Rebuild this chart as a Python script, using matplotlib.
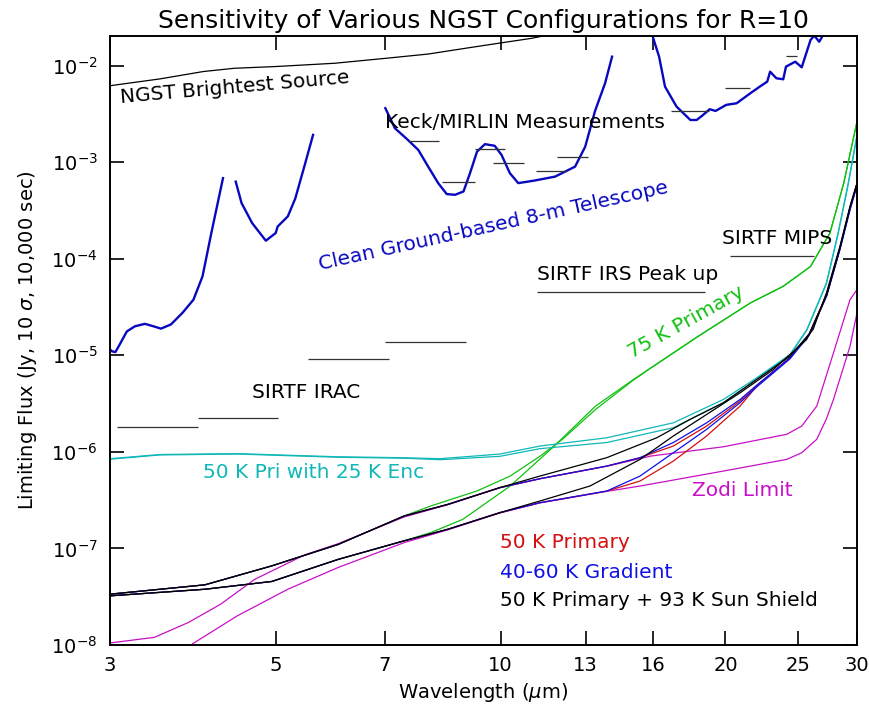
import matplotlib
matplotlib.use('Agg')
import matplotlib.pyplot as plt
from matplotlib.ticker import FixedLocator, FixedFormatter, NullLocator

# ---- data (wavelength in micron, flux in Jy) ----

# clean ground-based 8-m telescope, four pieces between absorption bands
gb_wl1 = [3.0, 3.02, 3.05, 3.09, 3.16, 3.24, 3.34, 3.43, 3.51, 3.62, 3.75, 3.88, 3.99, 4.10, 4.25]
gb_fl1 = [1.15e-5, 1.10e-5, 1.08e-5, 1.29e-5, 1.77e-5, 2.0e-5, 2.12e-5, 2.0e-5, 1.89e-5, 2.09e-5,
          2.75e-5, 3.77e-5, 6.58e-5, 1.85e-4, 6.85e-4]
gb_wl2 = [4.42, 4.50, 4.65, 4.85, 5.0, 5.03, 5.19, 5.31, 5.46, 5.61]
gb_fl2 = [6.3e-4, 3.78e-4, 2.34e-4, 1.54e-4, 1.85e-4, 2.16e-4, 2.75e-4, 4.2e-4, 9.0e-4, 1.92e-3]
gb_wl3 = [7.01, 7.22, 7.51, 7.76, 8.0, 8.25, 8.47, 8.69, 8.92, 9.1, 9.3, 9.53, 9.82, 10.03,
          10.29, 10.56, 11.1, 11.83, 12.58, 12.98, 13.38, 13.8, 14.1]
gb_fl3 = [3.63e-3, 2.25e-3, 1.71e-3, 1.34e-3, 9.0e-4, 6.08e-4, 4.68e-4, 4.6e-4, 4.98e-4, 7.7e-4,
          1.29e-3, 1.54e-3, 1.48e-3, 1.19e-3, 7.7e-4, 6.08e-4, 6.46e-4, 7.1e-4, 9.0e-4, 1.45e-3,
          3.4e-3, 6.58e-3, 1.24e-2]
gb_wl4 = [16.01, 16.3, 16.6, 17.2, 17.95, 18.3, 18.6, 19.05, 19.4, 20.05, 20.7, 21.6, 22.3, 22.75,
          22.95, 23.4, 23.9, 24.1, 24.8, 25.3, 26.0, 26.3, 26.7, 27.0]
gb_fl4 = [1.92e-2, 1.24e-2, 6.07e-3, 3.77e-3, 2.74e-3, 2.74e-3, 3.02e-3, 3.54e-3, 3.4e-3, 3.93e-3,
          4.08e-3, 5.19e-3, 6.17e-3, 6.84e-3, 8.67e-3, 7.41e-3, 7.23e-3, 9.77e-3, 1.1e-2, 9.62e-3,
          1.85e-2, 2.05e-2, 1.77e-2, 2.05e-2]

# NGST brightest source
bright_wl = [3.0, 3.5, 4.0, 4.4, 5.0, 6.0, 7.0, 8.0, 9.0, 10.0, 11.0, 12.0]
bright_fl = [6.2e-3, 7.3e-3, 8.7e-3, 9.4e-3, 9.8e-3, 1.06e-2, 1.19e-2, 1.32e-2, 1.52e-2, 1.72e-2,
             1.92e-2, 2.2e-2]

# Keck/MIRLIN measurements (bands)
keck_lo = [7.51, 8.36, 9.25, 9.76, 11.17, 11.9, 16.9, 20.0, 24.1]
keck_hi = [8.27, 9.25, 10.15, 10.76, 12.27, 13.1, 19.0, 21.6, 24.9]
keck_fl = [1.66e-3, 6.17e-4, 1.37e-3, 9.78e-4, 8.2e-4, 1.12e-3, 3.43e-3, 5.93e-3, 1.26e-2]

# SIRTF instruments
irac_lo = [3.07, 3.93, 5.52, 7.0]
irac_hi = [3.93, 5.04, 7.1, 9.0]
irac_fl = [1.81e-6, 2.26e-6, 9.06e-6, 1.36e-5]
irs_lo, irs_hi, irs_fl = [11.2], [18.8], [4.5e-5]
mips_lo, mips_hi, mips_fl = [20.3], [26.3], [1.08e-4]

# short-wavelength part shared by the NGST curves (upper and lower case)
up_wl = [3.0, 4.02, 4.94, 6.06, 7.43, 8.5, 9.98]
up_fl = [3.36e-8, 4.2e-8, 6.6e-8, 1.10e-7, 2.17e-7, 2.86e-7, 4.27e-7]
lo_wl = [3.0, 4.02, 4.94, 6.06, 7.43, 8.5, 9.98]
lo_fl = [3.23e-8, 3.78e-8, 4.55e-8, 7.7e-8, 1.2e-7, 1.58e-7, 2.35e-7]

# 50 K primary + 93 K sun shield (black)
blk_wl_a = [11.29, 13.87, 16.18, 17.93, 19.87, 22.02, 24.4, 26.2, 27.32, 28.47, 29.36, 30.0]
blk_fl_a = [5.62e-7, 8.71e-7, 1.40e-6, 2.17e-6, 3.23e-6, 5.62e-6, 9.8e-6, 1.85e-5, 4.5e-5, 1.36e-4,
            3.5e-4, 6.1e-4]
blk_wl_b = [11.29, 13.17, 15.37, 17.03, 18.87, 20.92, 23.18, 25.69, 27.32, 28.47, 29.36, 30.0]
blk_fl_b = [3.1e-7, 4.43e-7, 8.36e-7, 1.46e-6, 2.44e-6, 4.09e-6, 7.13e-6, 1.46e-5, 4.2e-5, 1.3e-4,
            3.4e-4, 6.0e-4]

# tails of the 50 K primary (red) and 40-60 K gradient (blue)
tail_wl = [11.29, 13.87, 15.37, 17.03, 18.87, 20.92, 22.02, 24.4, 25.9, 27.32, 28.47, 29.36, 30.0]
blue_fl_a = [5.28e-7, 7.13e-7, 8.71e-7, 1.25e-6, 2.0e-6, 3.49e-6, 4.9e-6, 9.4e-6, 1.65e-5, 4.2e-5,
             1.28e-4, 3.3e-4, 5.8e-4]
red_fl_a = [5.28e-7, 7.13e-7, 8.71e-7, 1.15e-6, 1.85e-6, 3.36e-6, 4.85e-6, 9.5e-6, 1.68e-5, 4.3e-5,
            1.3e-4, 3.4e-4, 6.0e-4]
blue_fl_b = [2.98e-7, 3.93e-7, 5.62e-7, 9.8e-7, 1.71e-6, 3.23e-6, 4.7e-6, 9.2e-6, 1.62e-5, 4.1e-5,
             1.25e-4, 3.2e-4, 5.7e-4]
red_fl_b = [2.98e-7, 3.93e-7, 4.99e-7, 8.03e-7, 1.46e-6, 2.98e-6, 4.79e-6, 9.4e-6, 1.66e-5, 4.2e-5,
            1.28e-4, 3.35e-4, 5.9e-4]

# zodi limit (magenta)
zodi_wl_a = [3.0, 3.44, 3.82, 4.22, 4.69, 5.47, 6.06, 7.43, 8.5, 9.98, 11.29, 13.87, 15.9, 19.87,
             24.15, 25.3, 26.5, 27.9, 29.36, 30.0]
zodi_fl_a = [1.05e-8, 1.2e-8, 1.71e-8, 2.65e-8, 4.8e-8, 8.6e-8, 1.12e-7, 2.12e-7, 2.84e-7, 4.25e-7,
             5.26e-7, 7.1e-7, 9.06e-7, 1.13e-6, 1.52e-6, 1.85e-6, 2.98e-6, 1.06e-5, 3.77e-5, 4.8e-5]
zodi_wl_b = [3.87, 4.44, 5.19, 6.06, 7.43, 8.5, 9.98, 11.29, 13.87, 15.37, 19.87, 24.15, 25.3, 26.5,
             27.3, 27.9, 29.36, 30.0]
zodi_fl_b = [1.03e-8, 2.0e-8, 3.78e-8, 6.35e-8, 1.15e-7, 1.56e-7, 2.33e-7, 2.96e-7, 3.9e-7, 4.43e-7,
             6.33e-7, 8.36e-7, 9.8e-7, 1.35e-6, 2.2e-6, 3.49e-6, 1.24e-5, 2.75e-5]

# 75 K primary (green)
g_wl_a = [8.06, 9.3, 10.3, 11.3, 12.1, 13.4, 15.0, 15.9, 18.4, 21.6, 23.9, 26.0, 27.6, 28.8, 30.0]
g_fl_a = [2.75e-7, 3.94e-7, 5.62e-7, 9.05e-7, 1.35e-6, 2.75e-6, 5.42e-6, 7.43e-6, 1.58e-5, 3.49e-5,
          5.19e-5, 8.34e-5, 1.85e-4, 6.08e-4, 2.64e-3]
g_wl_b = [8.06, 8.9, 10.3, 11.8, 13.4, 15.0, 15.9, 18.4, 21.6, 23.9, 26.0, 27.6, 28.8, 30.0]
g_fl_b = [1.46e-7, 2.0e-7, 4.43e-7, 1.15e-6, 2.98e-6, 5.5e-6, 7.43e-6, 1.58e-5, 3.49e-5,
          5.19e-5, 8.34e-5, 1.85e-4, 6.08e-4, 2.64e-3]

# 50 K primary with 25 K enclosure (cyan)
cy_wl = [3.0, 3.5, 4.44, 6.06, 7.43, 8.3, 9.98, 11.29, 13.87, 17.03, 19.87, 22.02, 24.4, 25.7,
         27.3, 28.3, 29.2, 30.0]
cy_fl_a = [8.5e-7, 9.4e-7, 9.6e-7, 8.9e-7, 8.7e-7, 8.5e-7, 9.5e-7, 1.15e-6, 1.40e-6, 2.0e-6,
           3.49e-6, 5.85e-6, 1.02e-5, 1.85e-5, 5.62e-5, 1.85e-4, 6.08e-4, 1.92e-3]
cy_fl_b = [8.4e-7, 9.3e-7, 9.5e-7, 8.8e-7, 8.6e-7, 8.3e-7, 9.0e-7, 1.08e-6, 1.25e-6, 1.78e-6,
           3.23e-6, 5.7e-6, 1.0e-5, 1.82e-5, 5.5e-5, 1.8e-4, 5.9e-4, 1.85e-3]

xticks = [3, 5, 7, 10, 13, 16, 20, 25, 30]
yticks = [1e-8, 1e-7, 1e-6, 1e-5, 1e-4, 1e-3, 1e-2]
ytick_labels = [r'$10^{-8}$', r'$10^{-7}$', r'$10^{-6}$', r'$10^{-5}$', r'$10^{-4}$',
                r'$10^{-3}$', r'$10^{-2}$']

# ---- plot ----
RED = '#d41010'
BLUE = '#1010e8'
GREEN = '#10c010'
CYAN = '#10b8b8'
MAG = '#c810c8'
GBLUE = '#0808c0'

fig = plt.figure(figsize=(8.7, 7.09), dpi=100)
ax = fig.add_axes([110/870, 64/709, 747/870, 609/709])
lw = 0.9

ax.plot(bright_wl, bright_fl, color='black', lw=lw)
for w, f in [(gb_wl1, gb_fl1), (gb_wl2, gb_fl2), (gb_wl3, gb_fl3), (gb_wl4, gb_fl4)]:
    ax.plot(w, f, color=GBLUE, lw=1.7)

ax.hlines(keck_fl, keck_lo, keck_hi, color='#333333', lw=lw)
ax.hlines(irac_fl, irac_lo, irac_hi, color='#333333', lw=lw)
ax.hlines(irs_fl, irs_lo, irs_hi, color='#333333', lw=lw)
ax.hlines(mips_fl, mips_lo, mips_hi, color='#333333', lw=lw)

ax.plot(zodi_wl_a, zodi_fl_a, color=MAG, lw=lw)
ax.plot(zodi_wl_b, zodi_fl_b, color=MAG, lw=lw)
ax.plot(up_wl[:5] + g_wl_a, up_fl[:5] + g_fl_a, color=GREEN, lw=lw)
ax.plot(lo_wl[:5] + g_wl_b, lo_fl[:5] + g_fl_b, color=GREEN, lw=lw)
ax.plot(cy_wl, cy_fl_a, color=CYAN, lw=lw)
ax.plot(cy_wl, cy_fl_b, color=CYAN, lw=lw)
ax.plot(up_wl + tail_wl, up_fl + red_fl_a, color=RED, lw=lw)
ax.plot(lo_wl + tail_wl, lo_fl + red_fl_b, color=RED, lw=lw)
ax.plot(up_wl + tail_wl, up_fl + blue_fl_a, color=BLUE, lw=lw)
ax.plot(lo_wl + tail_wl, lo_fl + blue_fl_b, color=BLUE, lw=lw)
ax.plot(up_wl + blk_wl_a, up_fl + blk_fl_a, color='black', lw=lw)
ax.plot(lo_wl + blk_wl_b, lo_fl + blk_fl_b, color='black', lw=lw)

ax.set_xscale('log')
ax.set_yscale('log')
ax.set_xlim(3, 30)
ax.set_ylim(1e-8, 2.03e-2)

ax.xaxis.set_major_locator(FixedLocator(xticks))
ax.xaxis.set_major_formatter(FixedFormatter([str(t) for t in xticks]))
ax.xaxis.set_minor_locator(NullLocator())
ax.yaxis.set_major_locator(FixedLocator(yticks))
ax.yaxis.set_major_formatter(FixedFormatter(ytick_labels))
ax.yaxis.set_minor_locator(NullLocator())
ax.tick_params(axis='both', which='major', direction='in', top=True, right=True,
               length=10, width=1.2, labelsize=14)
ax.tick_params(axis='x', pad=8)
ax.tick_params(axis='y', pad=9)
for s in ax.spines.values():
    s.set_linewidth(1.4)

ax.set_xlabel(r'Wavelength ($\mu$m)', fontsize=14, labelpad=4)
ax.set_ylabel(r'Limiting Flux (Jy, 10 $\sigma$, 10,000 sec)', fontsize=14, labelpad=9)
ax.set_title('Sensitivity of Various NGST Configurations for R=10', fontsize=18, pad=6)

fs = 14.5
def put(px, py, s, color='black', rot=0, ha='left'):
    ax.text((px - 110) / 747, (645 - py) / 609, s, transform=ax.transAxes, color=color,
            fontsize=fs, rotation=rot, ha=ha, va='center', rotation_mode='anchor')

put(235, 88, 'NGST Brightest Source', rot=5, ha='center')
put(385, 123, 'Keck/MIRLIN Measurements')
put(493, 226, 'Clean Ground-based 8-m Telescope', color=GBLUE, rot=12.5, ha='center')
put(722, 238, 'SIRTF MIPS')
put(537, 275, 'SIRTF IRS Peak up')
put(686, 322, '75 K Primary', color=GREEN, rot=29, ha='center')
put(252, 393, 'SIRTF IRAC')
put(203, 473, '50 K Pri with 25 K Enc', color=CYAN)
put(692, 490, 'Zodi Limit', color=MAG)
put(500, 543, '50 K Primary', color=RED)
put(500, 572, '40-60 K Gradient', color=BLUE)
put(500, 601, '50 K Primary + 93 K Sun Shield')

fig.savefig('out.png', dpi=100)
